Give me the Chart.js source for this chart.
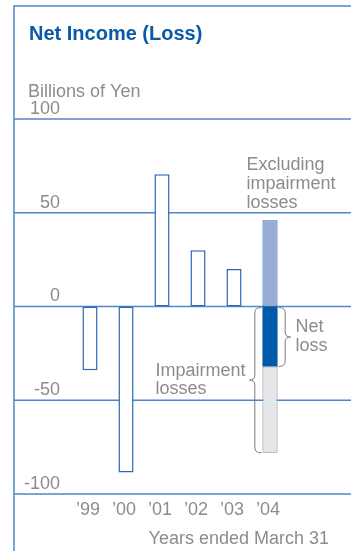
<!DOCTYPE html>
<html>
<head>
<meta charset="utf-8">
<script src="https://cdn.jsdelivr.net/npm/chart.js@4"></script>
<style>
  html, body { margin: 0; padding: 0; background: #fff; }
  canvas { display: block; }
</style>
</head>
<body>
<canvas id="netIncome" width="351" height="551"></canvas>
<script>
// Net income (loss), billions of yen, fiscal years ended March 31
const years = ["\u201999", "\u201900", "\u201901", "\u201902", "\u201903", "\u201904"];
const netIncome = [-34, -88.5, 70.5, 30, 20, null];
// fiscal 2004 split
const exclImpairment04 = 46;
const netLoss04 = -32;
const impairmentBottom04 = -78;
const yTicks = [100, 50, 0, -50, -100];

const GRAY = '#8c8c8c';
const LINE = '#4f86cc';
const FONT = '"Liberation Sans", Arial, sans-serif';

function only04(v) {
  return years.map((y, i) => i === years.length - 1 ? v : null);
}

// frame, grid lines, axis text and the 2004 braces
const decorations = {
  id: 'decorations',
  beforeDatasetsDraw(chart) {
    const ctx = chart.ctx;
    const y = chart.scales.y;
    ctx.save();
    ctx.strokeStyle = LINE;
    ctx.lineWidth = 1.5;
    // frame
    ctx.beginPath();
    ctx.moveTo(14, chart.height);
    ctx.lineTo(14, 6);
    ctx.lineTo(chart.width, 6);
    ctx.stroke();
    // grid lines across the full width
    yTicks.forEach(t => {
      const py = y.getPixelForValue(t);
      ctx.beginPath();
      ctx.moveTo(14, py);
      ctx.lineTo(chart.width, py);
      ctx.stroke();
    });
    ctx.restore();
  },
  afterDraw(chart) {
    const ctx = chart.ctx;
    const x = chart.scales.x;
    const y = chart.scales.y;
    ctx.save();

    // title
    ctx.fillStyle = '#0b5aa8';
    ctx.font = 'bold 20px ' + FONT;
    ctx.textBaseline = 'middle';
    ctx.textAlign = 'left';
    ctx.fillText('Net Income (Loss)', 29, 34);

    ctx.fillStyle = GRAY;
    ctx.font = '18px ' + FONT;
    ctx.fillText('Billions of Yen', 28, 92);

    // y tick labels sit above their lines
    ctx.textAlign = 'right';
    yTicks.forEach(t => {
      ctx.fillText(String(t), 60, y.getPixelForValue(t) - 10);
    });

    // x tick labels
    ctx.textAlign = 'center';
    years.forEach((lab, i) => {
      ctx.fillText(lab, x.getPixelForValue(i) - 2, 510);
    });
    ctx.textAlign = 'right';
    ctx.fillText('Years ended March 31', 329, 539);

    // 2004 bar annotations
    const bar = chart.getDatasetMeta(1).data[years.length - 1];
    const left = bar.x - bar.width / 2;
    const right = bar.x + bar.width / 2;
    const y0 = y.getPixelForValue(0);
    const yNet = y.getPixelForValue(netLoss04);
    const yImp = y.getPixelForValue(impairmentBottom04);
    const yTop = y.getPixelForValue(exclImpairment04);

    ctx.textAlign = 'left';
    ['Excluding', 'impairment', 'losses'].forEach((s, i) => {
      ctx.fillText(s, left - 16, yTop - 55 + i * 19);
    });

    ctx.strokeStyle = '#7a7a7a';
    ctx.lineWidth = 1;
    brace(ctx, right + 1, y0 + 1, yNet, 12, 1);
    brace(ctx, left - 1, y0 + 1, yImp, 12, -1);

    const netMid = (y0 + yNet) / 2;
    ctx.fillText('Net', right + 18, netMid - 9);
    ctx.fillText('loss', right + 18, netMid + 10);

    const impMid = (y0 + yImp) / 2;
    const impLeft = left - 17 - ctx.measureText('Impairment').width;
    ctx.fillText('Impairment', impLeft, impMid - 9);
    ctx.fillText('losses', impLeft, impMid + 9);

    ctx.restore();
  }
};

function brace(ctx, x, y1, y2, w, dir) {
  const xs = x + dir * w * 0.55;
  const xt = x + dir * w;
  const ym = (y1 + y2) / 2;
  const r = 5;
  ctx.beginPath();
  ctx.moveTo(x, y1);
  ctx.quadraticCurveTo(xs, y1, xs, y1 + r);
  ctx.lineTo(xs, ym - r);
  ctx.quadraticCurveTo(xs, ym, xt, ym);
  ctx.quadraticCurveTo(xs, ym, xs, ym + r);
  ctx.lineTo(xs, y2 - r);
  ctx.quadraticCurveTo(xs, y2, x, y2);
  ctx.stroke();
}

const barOpts = {
  barPercentage: 0.84,
  categoryPercentage: 0.5,
  grouped: false,
  borderSkipped: false
};

new Chart(document.getElementById('netIncome'), {
  type: 'bar',
  data: {
    labels: years,
    datasets: [
      Object.assign({
        label: 'Net income (loss)',
        data: netIncome,
        backgroundColor: '#ffffff',
        borderColor: '#2c68b4',
        borderWidth: 1.5
      }, barOpts),
      Object.assign({
        label: 'Excluding impairment losses',
        data: only04([0, exclImpairment04]),
        backgroundColor: '#98abd7',
        borderColor: '#2c5fa8',
        borderWidth: 1
      }, barOpts),
      Object.assign({
        label: 'Net loss',
        data: only04([0, netLoss04]),
        backgroundColor: '#0059a9',
        borderColor: '#0059a9',
        borderWidth: 0
      }, barOpts),
      Object.assign({
        label: 'Impairment losses',
        data: only04([netLoss04, impairmentBottom04]),
        backgroundColor: '#e5e6e8',
        borderColor: '#8a8a8a',
        borderWidth: 1
      }, barOpts)
    ]
  },
  options: {
    responsive: false,
    animation: false,
    layout: { padding: { left: 72, right: 63, top: 119, bottom: 57 } },
    plugins: {
      legend: { display: false },
      tooltip: { enabled: false }
    },
    scales: {
      x: { display: false },
      y: { display: false, min: -100, max: 100 }
    }
  },
  plugins: [decorations]
});
</script>
</body>
</html>
